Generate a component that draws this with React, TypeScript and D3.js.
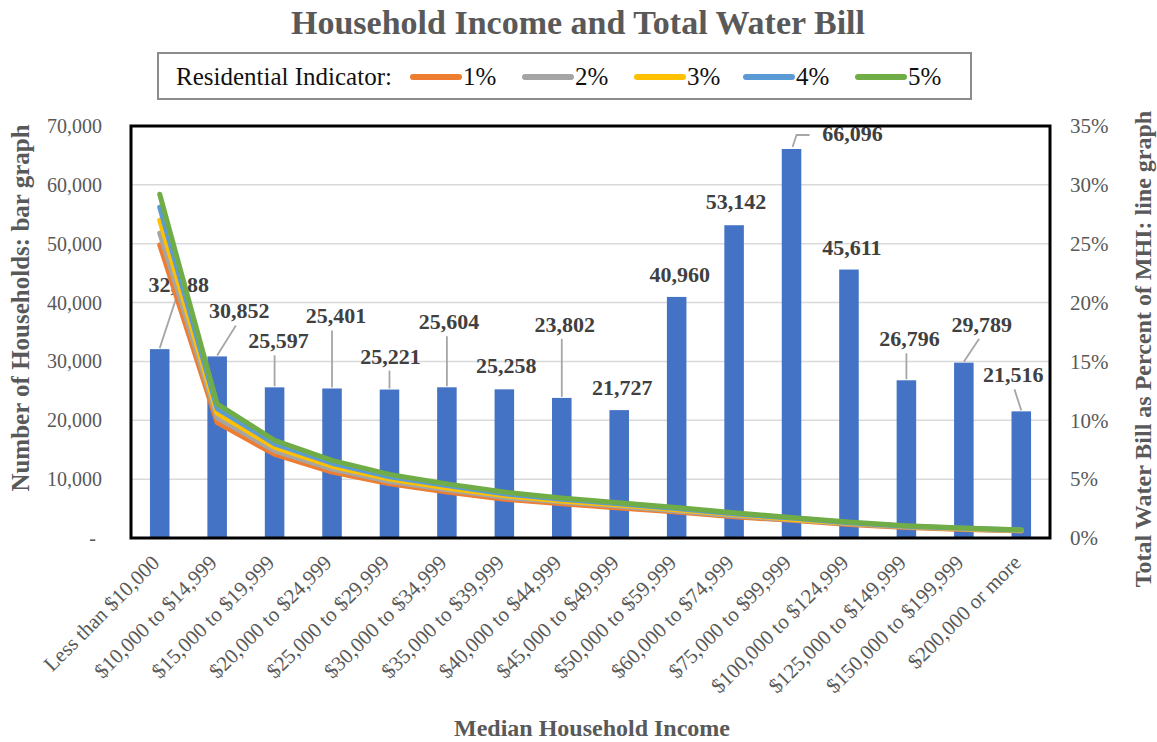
import React, { useEffect } from "react";
import * as d3 from "d3";

const categories = [
  "Less than $10,000",
  "$10,000 to $14,999",
  "$15,000 to $19,999",
  "$20,000 to $24,999",
  "$25,000 to $29,999",
  "$30,000 to $34,999",
  "$35,000 to $39,999",
  "$40,000 to $44,999",
  "$45,000 to $49,999",
  "$50,000 to $59,999",
  "$60,000 to $74,999",
  "$75,000 to $99,999",
  "$100,000 to $124,999",
  "$125,000 to $149,999",
  "$150,000 to $199,999",
  "$200,000 or more",
];

const households = [32088, 30852, 25597, 25401, 25221, 25604, 25258, 23802, 21727, 40960, 53142, 66096, 45611, 26796, 29789, 21516];

// Total water bill as percent of MHI (%), per residential indicator
const pct1 = [24.9, 9.8, 7.1, 5.6, 4.6, 3.9, 3.3, 2.9, 2.55, 2.2, 1.8, 1.5, 1.15, 0.9, 0.73, 0.6];
const pct2 = [25.9, 10.2, 7.4, 5.85, 4.8, 4.1, 3.45, 3.05, 2.7, 2.3, 1.9, 1.55, 1.2, 0.93, 0.76, 0.62];
const pct3 = [27.0, 10.6, 7.7, 6.1, 5.0, 4.25, 3.6, 3.15, 2.8, 2.4, 2.0, 1.6, 1.25, 0.97, 0.79, 0.65];
const pct4 = [28.1, 11.0, 8.0, 6.35, 5.2, 4.45, 3.75, 3.3, 2.9, 2.5, 2.05, 1.7, 1.3, 1.0, 0.82, 0.68];
const pct5 = [29.2, 11.4, 8.3, 6.6, 5.4, 4.6, 3.9, 3.4, 3.0, 2.6, 2.15, 1.75, 1.35, 1.05, 0.85, 0.7];

const seriesNames = ["1%", "2%", "3%", "4%", "5%"];
const seriesValues = [pct1, pct2, pct3, pct4, pct5];

const leftTicks = [0, 10000, 20000, 30000, 40000, 50000, 60000, 70000];
const rightTicks = [0, 5, 10, 15, 20, 25, 30, 35];

// layout-only: label offsets relative to bar top centre
const labelLayout: { dx: number; dy: number; leader: string }[] = [
  { dx: 19, dy: -57, leader: "straight" },
  { dx: 22, dy: -38, leader: "straight" },
  { dx: 4, dy: -39, leader: "straight" },
  { dx: 4, dy: -65, leader: "straight" },
  { dx: 1, dy: -26, leader: "straight" },
  { dx: 2, dy: -58, leader: "straight" },
  { dx: 2, dy: -16, leader: "none" },
  { dx: 3, dy: -66, leader: "straight" },
  { dx: 3, dy: -15, leader: "none" },
  { dx: 3, dy: -15, leader: "none" },
  { dx: 2, dy: -16, leader: "none" },
  { dx: 61, dy: -8, leader: "elbow" },
  { dx: 3, dy: -15, leader: "none" },
  { dx: 3, dy: -34, leader: "straight" },
  { dx: 18, dy: -31, leader: "straight" },
  { dx: -8, dy: -29, leader: "straight" },
];

const W = 1157;
const H = 742;
const L = 131;
const R = 1050;
const T = 126;
const B = 538;

const colors = ["#ED7D31", "#A5A5A5", "#FFC000", "#5B9BD5", "#70AD47"];
const serif = "'Liberation Serif', 'Times New Roman', Times, serif";
const grayText = "#595959";

export default function App() {
  useEffect(() => {
    document.body.style.margin = "0";
  }, []);

  const x = d3.scaleBand<string>().domain(categories).range([L, R]).padding(0);
  const bw = x.bandwidth();
  const barW = bw * 0.34;
  const cx = (i: number) => (x(categories[i]) as number) + bw / 2;
  const yL = d3.scaleLinear().domain([0, 70000]).range([B, T]);
  const yR = d3.scaleLinear().domain([0, 35]).range([B, T]);
  const fmt = d3.format(",");

  const line = d3
    .line<number>()
    .x((_, i) => cx(i))
    .y((d) => yR(d))
    .curve(d3.curveLinear);

  const legendItemX = [410, 522, 634, 743, 855];
  const legendY = 77;

  return (
    <svg width={W} height={H} style={{ display: "block", position: "absolute", left: 0, top: 0, background: "#fff" }} fontFamily={serif}>
      <rect x={0} y={0} width={W} height={H} fill="#fff" />
      {/* Title */}
      <text x={578} y={34} textAnchor="middle" fontSize={34} fontWeight="bold" fill={grayText}>
        Household Income and Total Water Bill
      </text>

      {/* Legend */}
      <rect x={158} y={53} width={813} height={46} fill="#fff" stroke="#8c8c8c" strokeWidth={2} />
      <text x={176} y={legendY + 8} fontSize={25} fill="#111">
        Residential Indicator:
      </text>
      {seriesNames.map((n, i) => (
        <g key={n}>
          <line x1={legendItemX[i] + 3} x2={legendItemX[i] + 49} y1={legendY} y2={legendY} stroke={colors[i]} strokeWidth={6} strokeLinecap="round" />
          <text x={legendItemX[i] + 53} y={legendY + 8} fontSize={25} fill="#111">
            {n}
          </text>
        </g>
      ))}

      {/* Gridlines */}
      {leftTicks
        .filter((t) => t > 0 && t < 70000)
        .map((t) => (
          <line key={t} x1={L} x2={R} y1={yL(t)} y2={yL(t)} stroke="#d9d9d9" strokeWidth={1.5} />
        ))}

      {/* Bars */}
      {households.map((v, i) => (
        <rect key={i} x={cx(i) - barW / 2} y={yL(v)} width={barW} height={B - yL(v)} fill="#4472C4" />
      ))}

      {/* Leader lines */}
      {households.map((v, i) => {
        const lay = labelLayout[i];
        const top = yL(v);
        const lx = cx(i) + lay.dx;
        const ly = top + lay.dy;
        if (lay.leader === "straight") {
          const ex = Math.abs(lay.dx) < 6 ? cx(i) : cx(i) + lay.dx * 0.85;
          return <line key={i} x1={cx(i)} y1={top - 1} x2={ex} y2={ly + 7} stroke="#a6a6a6" strokeWidth={1.8} />;
        }
        if (lay.leader === "elbow") {
          const pts: [number, number][] = [
            [cx(i) + 1, top - 2],
            [cx(i) + 5, top - 14],
            [lx - 43, top - 14],
          ];
          return <path key={i} d={d3.line()(pts) as string} fill="none" stroke="#a6a6a6" strokeWidth={1.8} />;
        }
        return null;
      })}

      {/* Data labels */}
      {households.map((v, i) => {
        const lay = labelLayout[i];
        return (
          <text key={i} x={cx(i) + lay.dx} y={yL(v) + lay.dy} textAnchor="middle" fontSize={22} fontWeight="bold" fill="#404040">
            {fmt(v)}
          </text>
        );
      })}

      {/* Lines */}
      {seriesValues.map((s, k) => (
        <path key={k} d={line(s) as string} fill="none" stroke={colors[k]} strokeWidth={5} strokeLinejoin="round" strokeLinecap="round" />
      ))}

      {/* Frame */}
      <rect x={L} y={T} width={R - L} height={B - T} fill="none" stroke="#000" strokeWidth={3} />

      {/* Left ticks */}
      {leftTicks.map((t) => (
        <text key={t} x={t === 0 ? 96 : 102} y={yL(t)} dy="0.35em" textAnchor="end" fontSize={20} fill={grayText}>
          {t === 0 ? "-" : fmt(t)}
        </text>
      ))}

      {/* Right ticks */}
      {rightTicks.map((t) => (
        <text key={t} x={1070} y={yR(t)} dy="0.35em" textAnchor="start" fontSize={21} fill={grayText}>
          {t + "%"}
        </text>
      ))}

      {/* X tick labels */}
      {categories.map((c, i) => (
        <text key={c} transform={`translate(${cx(i) + 1},${564}) rotate(-45)`} textAnchor="end" fontSize={21} fill={grayText}>
          {c}
        </text>
      ))}

      {/* Axis titles */}
      <text transform={`translate(29,308) rotate(-90)`} textAnchor="middle" fontSize={25} fontWeight="bold" fill={grayText}>
        Number of Households: bar graph
      </text>
      <text transform={`translate(1151,349) rotate(-90)`} textAnchor="middle" fontSize={24} fontWeight="bold" fill={grayText}>
        Total Water Bill as Percent of MHI: line graph
      </text>
      <text x={592} y={736} textAnchor="middle" fontSize={24} fontWeight="bold" fill={grayText}>
        Median Household Income
      </text>
    </svg>
  );
}
